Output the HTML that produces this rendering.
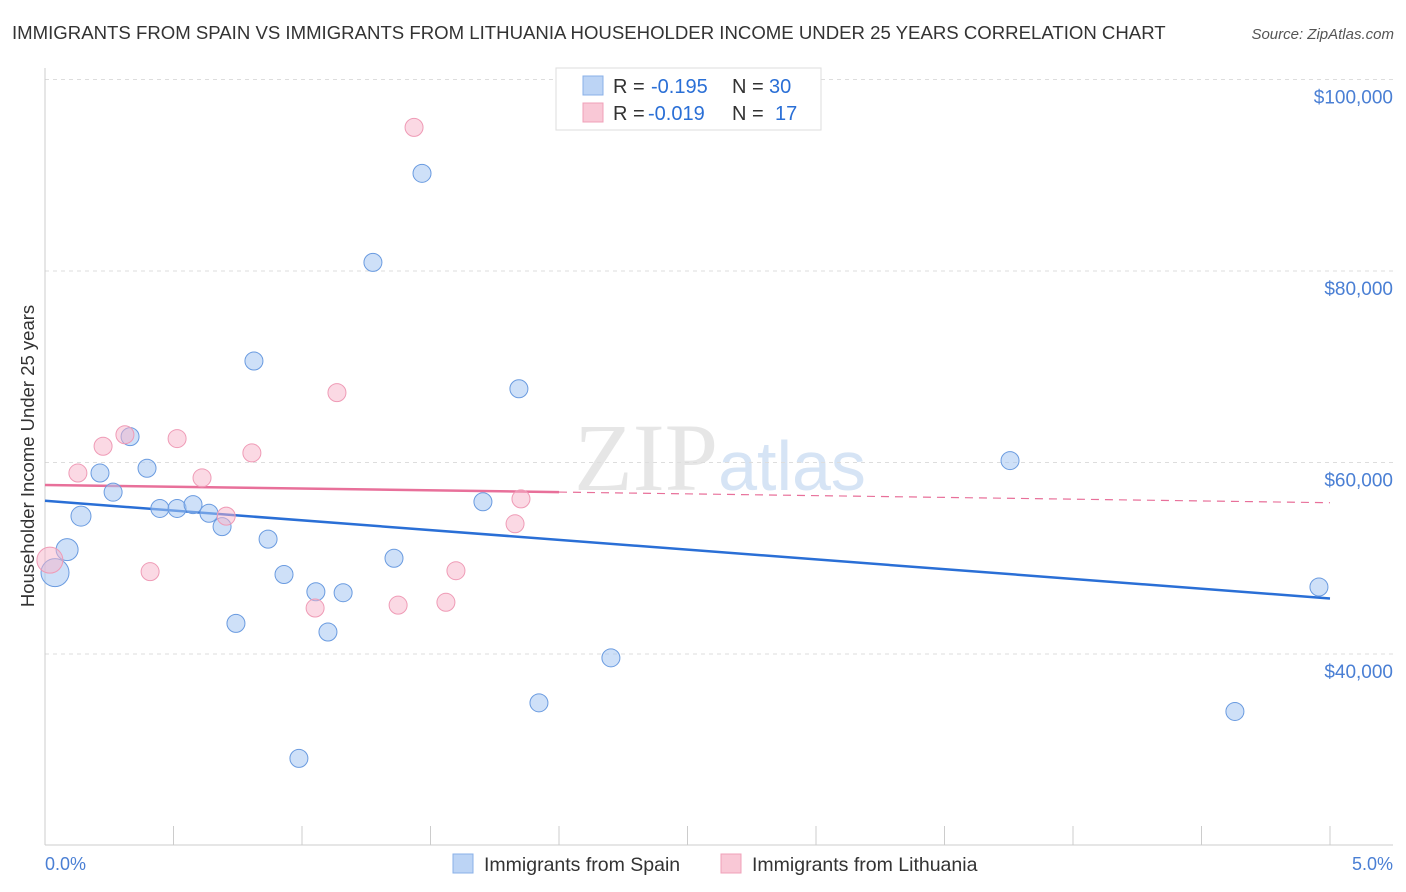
<!DOCTYPE html>
<html><head><meta charset="utf-8"><style>
body{margin:0;background:#fff;font-family:"Liberation Sans",sans-serif;}
svg{display:block}
</style></head><body>
<svg id="chart" width="1406" height="892">
<text x="12" y="39" font-size="18.6" fill="#333">IMMIGRANTS FROM SPAIN VS IMMIGRANTS FROM LITHUANIA HOUSEHOLDER INCOME UNDER 25 YEARS CORRELATION CHART</text>
<text x="1394" y="39" font-size="15" fill="#555" text-anchor="end" font-style="italic">Source: ZipAtlas.com</text>
<text x="720" y="490" font-size="96" fill="#e6e6e6" text-anchor="middle" font-family="Liberation Serif,serif">ZIP<tspan fill="#d6e4f5" font-family="Liberation Sans,sans-serif" font-size="70">atlas</tspan></text>
<text transform="translate(34,456) rotate(-90)" font-size="18.5" fill="#333" text-anchor="middle">Householder Income Under 25 years</text>
<g id="grid"></g><g id="lines"></g><g id="pts"></g>
<text x="45" y="870" font-size="18" fill="#4a7fd4">0.0%</text>
<text x="1393" y="870" font-size="18" fill="#4a7fd4" text-anchor="end">5.0%</text>
<g>
<rect x="556" y="68" width="265" height="62" fill="#fff" stroke="#ddd"/>
<rect x="583" y="76" width="20" height="19" fill="#bcd4f5" stroke="#8ab0e8"/>
<rect x="583" y="103" width="20" height="19" fill="#f9c8d6" stroke="#f0a0b8"/>
<text x="613" y="93" font-size="20" fill="#333">R = <tspan x="651" fill="#2a6fd6">-0.195</tspan><tspan x="732">N = </tspan><tspan x="769" fill="#2a6fd6">30</tspan></text>
<text x="613" y="120" font-size="20" fill="#333">R = <tspan x="648" fill="#2a6fd6">-0.019</tspan><tspan x="732">N = </tspan><tspan x="775" fill="#2a6fd6">17</tspan></text>
</g>
<g>
<rect x="453" y="854" width="20" height="19" fill="#bcd4f5" stroke="#8ab0e8"/>
<text x="484" y="871" font-size="19.5" fill="#333">Immigrants from Spain</text>
<rect x="721" y="854" width="20" height="19" fill="#f9c8d6" stroke="#f0a0b8"/>
<text x="752" y="871" font-size="19.5" fill="#333">Immigrants from Lithuania</text>
</g>
</svg>
<script>
const yTicks=[40000,60000,80000,100000];
const yTickLabels=["$40,000","$60,000","$80,000","$100,000"];
const spainX=[0.039,0.086,0.14,0.214,0.265,0.331,0.397,0.447,0.514,0.576,0.638,0.689,0.743,0.813,0.868,0.93,0.988,1.054,1.101,1.16,1.276,1.358,1.467,1.704,1.844,1.922,2.202,3.755,4.63,4.957];
const spainY=[48500,50900,54400,58900,56900,62700,59400,55200,55200,55600,54700,53300,43200,70600,52000,48300,29100,46500,42300,46400,80900,50000,90200,55900,67700,34900,39600,60200,34000,47000];
const spainR=[14,11,10,9,9,9,9,9,9,9,9,9,9,9,9,9,9,9,9,9,9,9,9,9,9,9,9,9,9,9];
const lithX=[0.019,0.128,0.226,0.311,0.409,0.514,0.611,0.705,0.805,1.051,1.136,1.374,1.436,1.56,1.599,1.829,1.852];
const lithY=[49800,58900,61700,62900,48600,62500,58400,54400,61000,44800,67300,45100,95000,45400,48700,53600,56200];
const lithR=[13,9,9,9,9,9,9,9,9,9,9,9,9,9,9,9,9];
const spainTrend=[56000,45800];
const lithTrend=[57650,55800];
const NS="http://www.w3.org/2000/svg";
const X=v=>45+v/5*1285;
const Y=v=>79.5+(100000-v)/20000*191.5;
function mk(t,a,p){const e=document.createElementNS(NS,t);for(const k in a)e.setAttribute(k,a[k]);p.appendChild(e);return e;}
const g=document.getElementById('grid');
yTicks.forEach((t,i)=>{
 const l=mk('line',{x1:45,x2:1393,y1:Y(t),y2:Y(t),stroke:'#ddd','stroke-dasharray':'4,4'},g);
 
 
 const tx=mk('text',{x:1393,y:Y(t)+24,'font-size':19,fill:'#4a7fd4','text-anchor':'end'},g);
 tx.textContent=yTickLabels[i];
 
 
});
const ax=mk('line',{x1:45,x2:45,y1:68,y2:845,stroke:'#ccc'},g);


const bx=mk('line',{x1:45,x2:1393,y1:845,y2:845,stroke:'#ccc'},g);


for(let i=0;i<=10;i++){const t=mk('line',{x1:X(i*0.5),x2:X(i*0.5),y1:826,y2:845,stroke:'#ccc'},g);
 
 }
const L=document.getElementById('lines');
const lt=v=>lithTrend[0]+(lithTrend[1]-lithTrend[0])*v/5;
const a=mk('line',{x1:X(0),y1:Y(spainTrend[0]),x2:X(5),y2:Y(spainTrend[1]),stroke:'#2a6fd6','stroke-width':2.5},L);


const b=mk('line',{x1:X(0),y1:Y(lt(0)),x2:X(2),y2:Y(lt(2)),stroke:'#e8709a','stroke-width':2.5},L);


const c=mk('line',{x1:X(2),y1:Y(lt(2)),x2:X(5),y2:Y(lt(5)),stroke:'#e8709a','stroke-width':1.2,'stroke-dasharray':'8,6'},L);


const P=document.getElementById('pts');
spainX.forEach((x,i)=>{const e=mk('circle',{cx:X(x),cy:Y(spainY[i]),r:spainR[i],fill:'rgba(165,198,242,0.55)',stroke:'#6a9be0','stroke-width':1},P);
 
 });
lithX.forEach((x,i)=>{const e=mk('circle',{cx:X(x),cy:Y(lithY[i]),r:lithR[i],fill:'rgba(247,180,202,0.5)',stroke:'#ef9bb6','stroke-width':1},P);
 
 });
</script>
</body></html>
